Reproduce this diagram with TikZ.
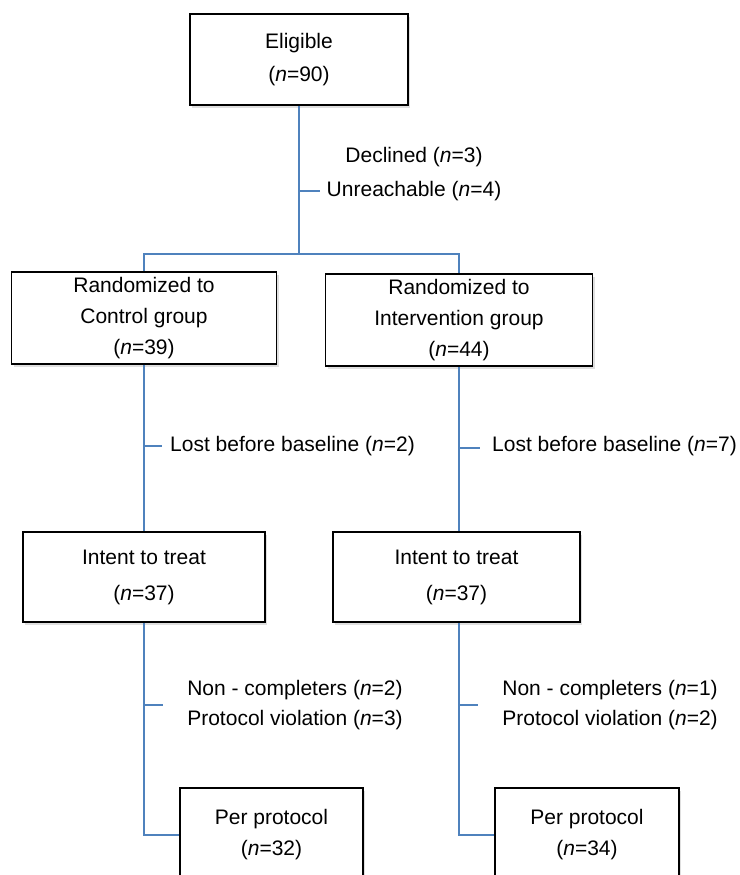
\documentclass[tikz,border=0pt]{standalone}
\usepackage{fontspec}
\setmainfont{Liberation Sans}
\usetikzlibrary{shadows}

\definecolor{azulin}{rgb}{0.31, 0.51, 0.74}

\begin{document}
\begin{tikzpicture}[x=1pt,y=-1pt,
    caja/.style={draw=black,line width=1.6pt,fill=white,align=center,inner sep=0pt,
        drop shadow={opacity=0.25,shadow xshift=2pt,shadow yshift=-3pt},
        font=\fontsize{21}{31}\selectfont},
    nota/.style={align=center,inner sep=0pt,font=\fontsize{21}{30}\selectfont},
    linea/.style={draw=azulin,line width=1.4pt}]
        \useasboundingbox (0,0) rectangle (739,875);

        % cajas
        \node[caja,minimum width=218pt,minimum height=91pt,font=\fontsize{21}{33}\selectfont] (eleg) at (299,59.5) {Eligible\\(\textit{n}=90)};
        \node[caja,minimum width=265pt,minimum height=92pt] (rand1) at (144,318) {Randomized to\\Control group\\(\textit{n}=39)};
        \node[caja,minimum width=267pt,minimum height=92pt] (rand2) at (459,320) {Randomized to\\Intervention group\\(\textit{n}=44)};
        \node[caja,minimum width=242pt,minimum height=90pt] (itt1) at (144,577) {Intent to treat\\[5pt](\textit{n}=37)};
        \node[caja,minimum width=247pt,minimum height=90pt] (itt2) at (456.5,577) {Intent to treat\\[5pt](\textit{n}=37)};
        \node[caja,minimum width=183pt,minimum height=94pt] (pp1) at (271.5,835) {Per protocol\\(\textit{n}=32)};
        \node[caja,minimum width=184pt,minimum height=94pt] (pp2) at (587,835) {Per protocol\\(\textit{n}=34)};

        % notas
        \node[nota,font=\fontsize{21}{34}\selectfont] (excl) at (414,174) {Declined (\textit{n}=3)\\Unreachable (\textit{n}=4)};
        \node[nota,anchor=west] (lost1) at (170,446) {Lost before baseline (\textit{n}=2)};
        \node[nota,anchor=west] (lost2) at (492,446) {Lost before baseline (\textit{n}=7)};
        \node[nota] (noc1) at (295,705) {Non - completers (\textit{n}=2)\\Protocol violation (\textit{n}=3)};
        \node[nota] (noc2) at (610,705) {Non - completers (\textit{n}=1)\\Protocol violation (\textit{n}=2)};

        % puntos
        \coordinate (split) at (299,254);
        \coordinate (t0) at (320,191);
        \coordinate (t1) at (162,446);
        \coordinate (t2) at (480,448);
        \coordinate (t3) at (163,705);
        \coordinate (t4) at (478,705);

        % conectores
        \draw[linea] (eleg.south) -- (split);
        \draw[linea] (rand1.north) |- (split) -| (rand2.north);
        \draw[linea] (eleg.south |- t0) -- (t0);
        \draw[linea] (rand1.south) -- (itt1.north);
        \draw[linea] (rand2.south) -- (rand2.south |- itt2.north);
        \draw[linea] (rand1.south |- t1) -- (t1);
        \draw[linea] (rand2.south |- t2) -- (t2);
        \draw[linea] (itt1.south) |- (pp1.west);
        \draw[linea] (rand2.south |- itt2.south) |- (pp2.west);
        \draw[linea] (itt1.south |- t3) -- (t3);
        \draw[linea] (rand2.south |- t4) -- (t4);
\end{tikzpicture}
\end{document}
